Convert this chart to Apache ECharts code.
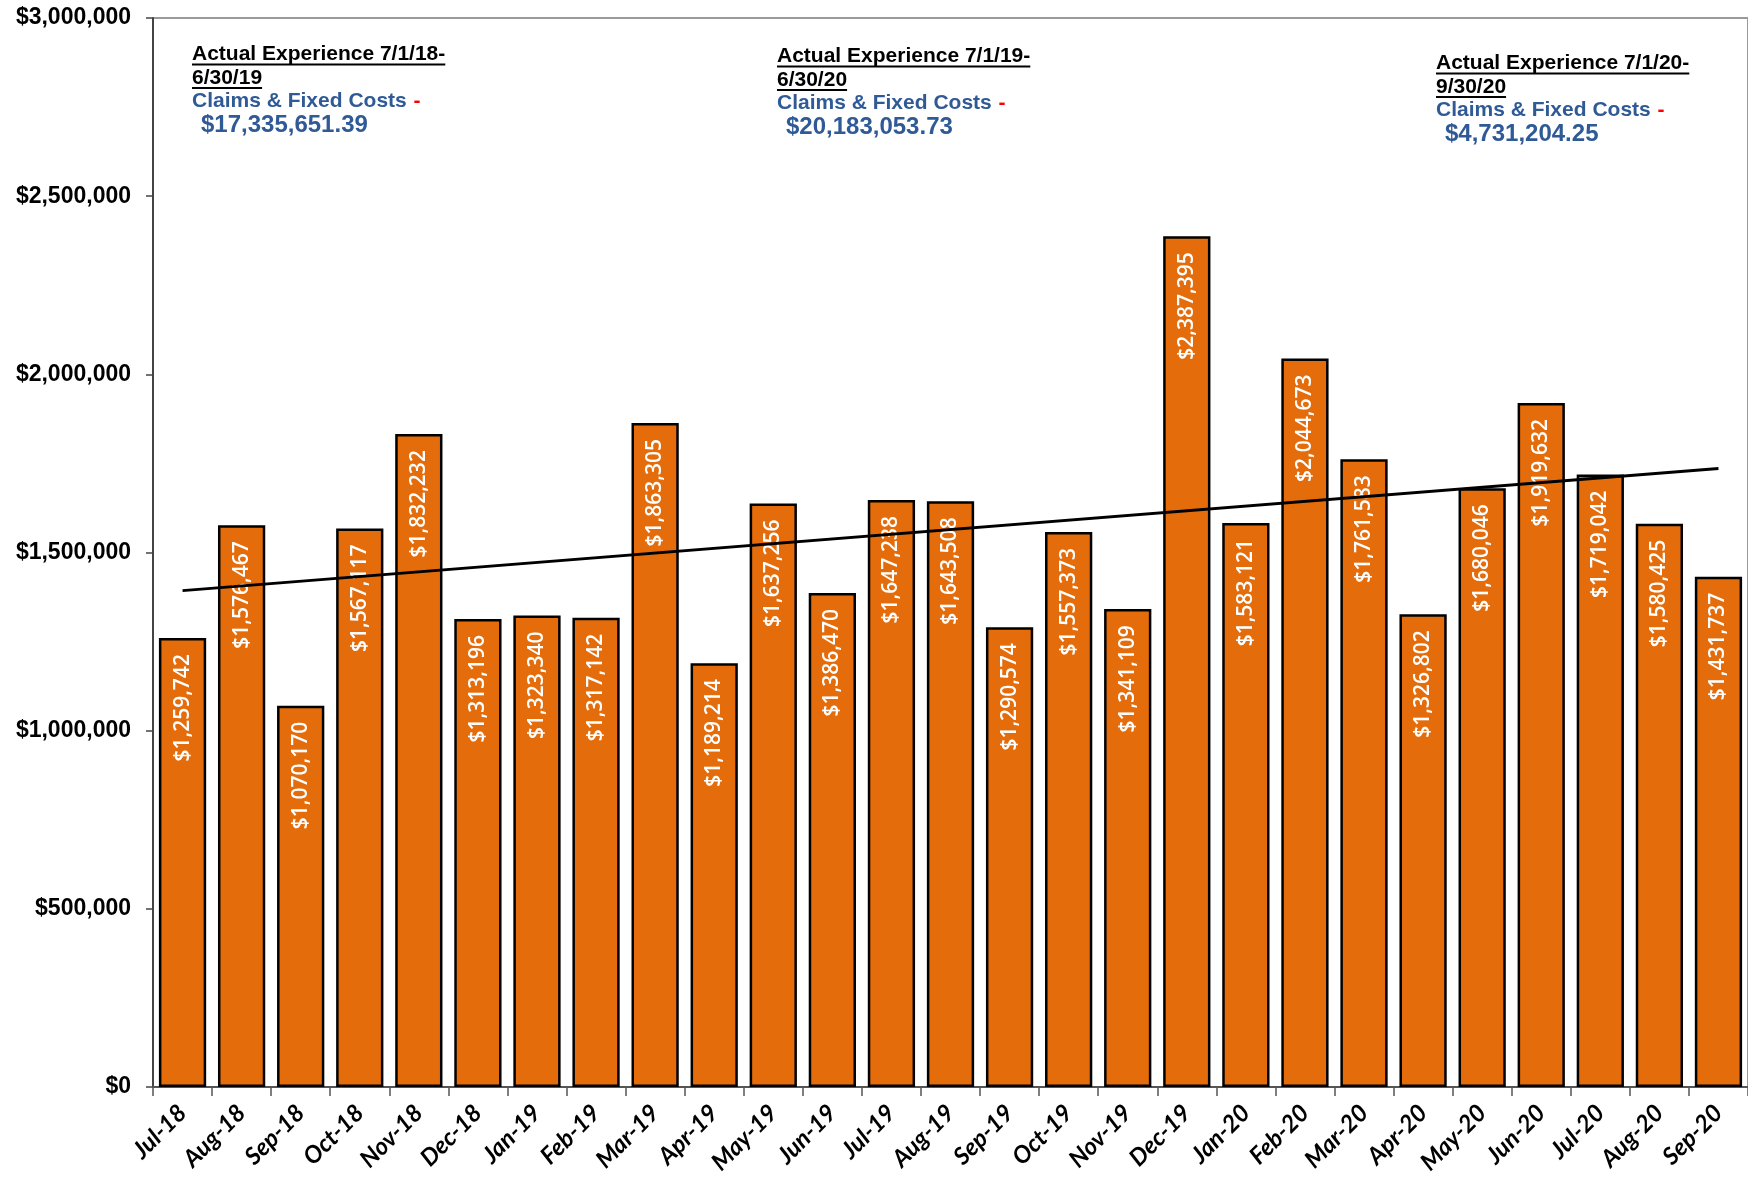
<!DOCTYPE html>
<html><head><meta charset="utf-8">
<script src="https://cdn.jsdelivr.net/npm/echarts@6/dist/echarts.min.js"></script>
<style>html,body{margin:0;padding:0;background:#fff}#c{width:1748px;height:1178px}</style>
</head><body><div id="c"></div>
<script>
const categories = ['Jul-18','Aug-18','Sep-18','Oct-18','Nov-18','Dec-18','Jan-19','Feb-19','Mar-19','Apr-19','May-19','Jun-19','Jul-19','Aug-19','Sep-19','Oct-19','Nov-19','Dec-19','Jan-20','Feb-20','Mar-20','Apr-20','May-20','Jun-20','Jul-20','Aug-20','Sep-20'];
const claims = [1259742,1576467,1070170,1567117,1832232,1313196,1323340,1317142,1863305,1189214,1637256,1386470,1647238,1643508,1290574,1557373,1341109,2387395,1583121,2044673,1761583,1326802,1680046,1919632,1719042,1580425,1431737];
// trend line end points
const trendStart = 1393000;
const trendEnd = 1736000;
const yMin = 0, yMax = 3000000, yStep = 500000;
const annTitles = ['Actual Experience 7/1/18-','Actual Experience 7/1/19-','Actual Experience 7/1/20-'];
const annTitles2 = ['6/30/19','6/30/20','9/30/20'];
const annSub = 'Claims & Fixed Costs';
const annTotals = ['$17,335,651.39','$20,183,053.73','$4,731,204.25'];

const trendData = categories.map((c,i)=> i===0 ? trendStart : (i===categories.length-1 ? trendEnd : null));
const money = v => '$' + Math.round(v).toLocaleString('en-US');

const chart = echarts.init(document.getElementById('c'), null, {renderer:'canvas'});

const ctx = document.createElement('canvas').getContext('2d');
function tw(t, font){ ctx.font = font; return ctx.measureText(t).width; }

const boxPos = [[192,56],[777,58],[1436,65]];
const lh = 23.5;
const blue = '#2F5A96';
const graphics = [];
boxPos.forEach((p,i)=>{
  const [x,y] = p;
  const f1 = 'bold 21px "Liberation Sans"';
  graphics.push({type:'text', left:x, top:y-12, z:100, style:{text:annTitles[i], font:f1, fill:'#000'}});
  graphics.push({type:'line', z:100, shape:{x1:x, y1:y+8.5, x2:x+tw(annTitles[i],f1), y2:y+8.5}, style:{stroke:'#000', lineWidth:2}});
  graphics.push({type:'text', left:x, top:y+lh-12, z:100, style:{text:annTitles2[i], font:f1, fill:'#000'}});
  graphics.push({type:'line', z:100, shape:{x1:x, y1:y+lh+8.5, x2:x+tw(annTitles2[i],f1), y2:y+lh+8.5}, style:{stroke:'#000', lineWidth:2}});
  graphics.push({type:'text', left:x, top:y+2*lh-12, z:100, style:{text:'{a|'+annSub+'}  {b|-}', rich:{a:{font:f1, fill:blue}, b:{font:f1, fill:'#FF0000'}}}});
  graphics.push({type:'text', left:x+9, top:y+3*lh-13, z:100, style:{text:annTotals[i], font:'bold 24px "Liberation Sans"', fill:blue}});
});

chart.setOption({
  animation:false,
  backgroundColor:'#fff',
  grid:{left:153, top:18, width:1602, bottom:91, show:true, borderColor:'#9a9a9a', borderWidth:2, backgroundColor:'transparent'},
  xAxis:{type:'category', data:categories,
    axisLine:{show:true, lineStyle:{color:'#555', width:2}},
    axisTick:{show:true, length:9, lineStyle:{color:'#555', width:1.5}},
    axisLabel:{rotate:45, margin:22, color:'#000', fontFamily:'Lato', fontWeight:'bold', fontStyle:'italic', fontSize:24}
  },
  yAxis:{type:'value', min:yMin, max:yMax, interval:yStep,
    axisLine:{show:true, lineStyle:{color:'#444', width:2}},
    axisTick:{show:true, length:7, lineStyle:{color:'#444', width:1.5}},
    splitLine:{show:false},
    axisLabel:{margin:22, color:'#000', fontFamily:'Liberation Sans', fontWeight:'bold', fontSize:23, formatter:v=>money(v)}
  },
  series:[
    {type:'bar', data:claims, barWidth:'80%', z:2,
      itemStyle:{color:'#E46C0A', borderColor:'#000', borderWidth:2.5},
      label:{show:true, position:'insideTop', rotate:90, align:'right', verticalAlign:'middle', distance:16,
        color:'#fff', fontFamily:'Open Sans', fontWeight:600, fontSize:21, formatter:p=>money(p.value)}
    },
    {type:'line', data:trendData, connectNulls:true, showSymbol:false, symbol:'none', z:10,
      lineStyle:{color:'#000', width:3}}
  ],
  graphic:graphics
});
</script></body></html>
